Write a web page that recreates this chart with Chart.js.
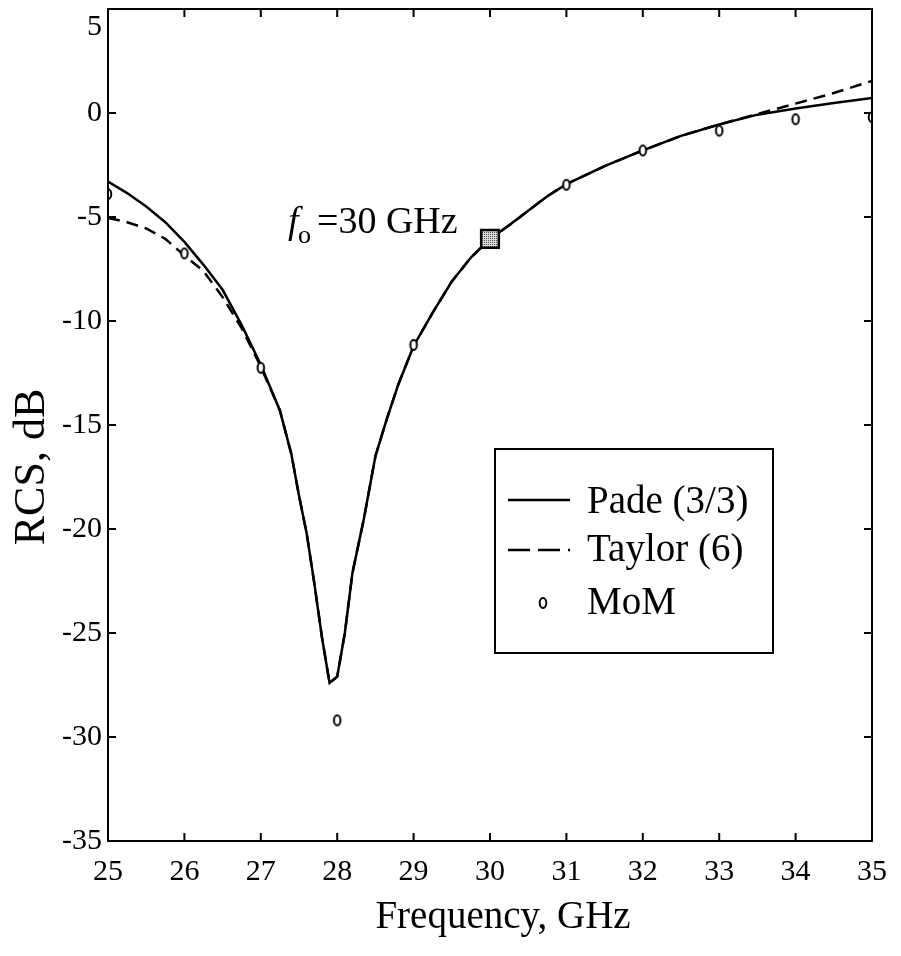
<!DOCTYPE html>
<html>
<head>
<meta charset="utf-8">
<script src="https://cdn.jsdelivr.net/npm/chart.js@4.4.0/dist/chart.umd.min.js"></script>
<style>
  body { margin: 0; background: #fff; }
  #wrap { width: 901px; height: 956px; }
</style>
</head>
<body>
<div id="wrap"><canvas id="rcsChart"></canvas></div>
<script>
// Frequency grid (GHz) shared by the two approximations
const freq = [25, 25.25, 25.5, 25.75, 26, 26.25, 26.5, 26.75, 27, 27.25, 27.4, 27.5, 27.6, 27.7, 27.8, 27.9,
  28, 28.1, 28.2, 28.35, 28.5, 28.65, 28.8, 29, 29.25, 29.5, 29.75, 30, 30.25, 30.5, 30.75, 31,
  31.5, 32, 32.5, 33, 33.5, 34, 34.5, 35];
// RCS, dB
const pade = [-3.3, -3.85, -4.5, -5.25, -6.2, -7.3, -8.5, -10.2, -12.1, -14.3, -16.4, -18.4, -20.2, -22.6, -25.2, -27.4,
  -27.1, -25.0, -22.1, -19.5, -16.5, -14.7, -13.05, -11.2, -9.6, -8.1, -6.95, -6.05, -5.4, -4.7, -4.0, -3.42,
  -2.55, -1.8, -1.1, -0.55, -0.08, 0.22, 0.48, 0.72];
const taylor = [-5.05, -5.25, -5.55, -6.05, -6.85, -7.6, -8.85, -10.35, -12.2, -14.3, -16.4, -18.4, -20.2, -22.6, -25.2, -27.4,
  -27.1, -25.0, -22.1, -19.5, -16.5, -14.7, -13.05, -11.2, -9.6, -8.1, -6.95, -6.05, -5.4, -4.7, -4.0, -3.42,
  -2.55, -1.8, -1.1, -0.55, -0.05, 0.45, 0.96, 1.54];
const momFreq = [25, 26, 27, 28, 29, 31, 32, 33, 34, 35];
const mom = [-3.9, -6.75, -12.25, -29.2, -11.15, -3.45, -1.8, -0.85, -0.3, -0.2];
// expansion point
const f0Freq = [30];
const f0Rcs = [-6.05];

const xTicks = [25, 26, 27, 28, 29, 30, 31, 32, 33, 34, 35];
const yTicks = [-35, -30, -25, -20, -15, -10, -5, 0, 5];

const serif = "'Liberation Serif', 'Times New Roman', serif";

function pts(xs, ys) {
  return xs.map((x, i) => ({ x: x, y: ys[i] }));
}

// stippled grey fill for the f0 square
function stipple() {
  const c = document.createElement("canvas");
  c.width = 2; c.height = 2;
  const g = c.getContext("2d");
  g.fillStyle = "#d8d8d8"; g.fillRect(0, 0, 2, 2);
  g.fillStyle = "#555"; g.fillRect(0, 0, 1, 1);
  return g.createPattern(c, "repeat");
}

// small upright ring like the MoM marks
function ring() {
  const c = document.createElement("canvas");
  c.width = 12; c.height = 16;
  const g = c.getContext("2d");
  g.fillStyle = "#fff";
  g.strokeStyle = "#000";
  g.lineWidth = 2;
  g.beginPath();
  g.ellipse(6, 8, 3.3, 5, 0, 0, Math.PI * 2);
  g.fill();
  g.stroke();
  return c;
}
const momMark = ring();

// frame with inward ticks on all four sides, titles, legend, f0 label
const decor = {
  id: "decor",
  afterDatasetsDraw(chart) {
    const { ctx, chartArea: a, scales } = chart;
    const len = 8;
    ctx.save();
    ctx.strokeStyle = "#000";
    ctx.lineWidth = 2;
    ctx.strokeRect(a.left, a.top, a.right - a.left, a.bottom - a.top);
    ctx.beginPath();
    xTicks.forEach(v => {
      const px = scales.x.getPixelForValue(v);
      ctx.moveTo(px, a.bottom); ctx.lineTo(px, a.bottom - len);
      ctx.moveTo(px, a.top); ctx.lineTo(px, a.top + len);
    });
    yTicks.forEach(v => {
      const py = scales.y.getPixelForValue(v);
      ctx.moveTo(a.left, py); ctx.lineTo(a.left + len, py);
      ctx.moveTo(a.right, py); ctx.lineTo(a.right - len, py);
    });
    ctx.stroke();

    // axis titles
    ctx.fillStyle = "#000";
    ctx.textAlign = "center";
    ctx.textBaseline = "middle";
    ctx.font = "39px " + serif;
    ctx.fillText("Frequency, GHz", 503, 918);
    ctx.save();
    ctx.translate(32, 467);
    ctx.rotate(-Math.PI / 2);
    ctx.font = "44px " + serif;
    ctx.fillText("RCS, dB", 0, 0);
    ctx.restore();

    // f0 label
    ctx.textAlign = "left";
    ctx.textBaseline = "alphabetic";
    ctx.font = "italic 38px " + serif;
    ctx.fillText("f", 288, 233);
    ctx.font = "26px " + serif;
    ctx.fillText("o", 298, 243);
    ctx.font = "38px " + serif;
    ctx.fillText("=30 GHz", 317, 233);

    // legend
    ctx.lineWidth = 2;
    ctx.strokeRect(495, 449, 278, 204);
    const ds = chart.data.datasets;
    ctx.lineWidth = 2.5;
    ctx.beginPath(); ctx.moveTo(508, 500); ctx.lineTo(570, 500); ctx.stroke();
    ctx.setLineDash([22, 8]);
    ctx.beginPath(); ctx.moveTo(508, 550); ctx.lineTo(570, 550); ctx.stroke();
    ctx.setLineDash([]);
    ctx.drawImage(momMark, 543 - 6, 603 - 8);
    ctx.fillStyle = "#000";
    ctx.font = "39px " + serif;
    ctx.textBaseline = "middle";
    ctx.fillText(ds[0].label, 587, 503);
    ctx.fillText(ds[1].label, 587, 551);
    ctx.fillText(ds[2].label, 587, 604);
    ctx.restore();
  }
};

new Chart(document.getElementById("rcsChart"), {
  type: "scatter",
  data: {
    datasets: [
      {
        label: "Pade (3/3)",
        data: pts(freq, pade),
        showLine: true,
        borderColor: "#000",
        borderWidth: 2.5,
        pointRadius: 0,
        tension: 0,
        order: 2
      },
      {
        label: "Taylor (6)",
        data: pts(freq, taylor),
        showLine: true,
        borderColor: "#000",
        borderWidth: 2.5,
        borderDash: [12, 7],
        pointRadius: 0,
        tension: 0,
        order: 3
      },
      {
        label: "MoM",
        data: pts(momFreq, mom),
        showLine: false,
        pointStyle: momMark,
        pointRadius: 5,
        order: 1
      },
      {
        label: "f0",
        data: pts(f0Freq, f0Rcs),
        showLine: false,
        pointStyle: "rect",
        pointRadius: 12.5,
        pointBorderWidth: 2.5,
        pointBorderColor: "#000",
        pointBackgroundColor: stipple(),
        order: 0
      }
    ]
  },
  options: {
    responsive: true,
    maintainAspectRatio: false,
    animation: false,
    layout: { autoPadding: false, padding: { top: 9, right: 29, left: 0, bottom: 0 } },
    plugins: {
      legend: { display: false },
      tooltip: { enabled: false }
    },
    scales: {
      x: {
        type: "linear",
        min: 25,
        max: 35,
        afterBuildTicks: s => { s.ticks = xTicks.map(v => ({ value: v })); },
        afterFit: s => { s.height = 115; s.paddingLeft = 0; s.paddingRight = 0; },
        grid: { display: false, drawTicks: false },
        border: { display: false },
        ticks: { color: "#000", padding: 13, maxRotation: 0, font: { family: serif, size: 30 } }
      },
      y: {
        type: "linear",
        min: -35,
        max: 5,
        afterBuildTicks: s => { s.ticks = yTicks.map(v => ({ value: v })); },
        afterFit: s => { s.width = 108; s.paddingTop = 0; s.paddingBottom = 0; },
        grid: { display: false, drawTicks: false },
        border: { display: false },
        ticks: {
          color: "#000",
          padding: 6,
          font: { family: serif, size: 30 },
          callback: v => (v === 5 ? ["", "5"] : String(v))
        }
      }
    }
  },
  plugins: [decor]
});
</script>
</body>
</html>
